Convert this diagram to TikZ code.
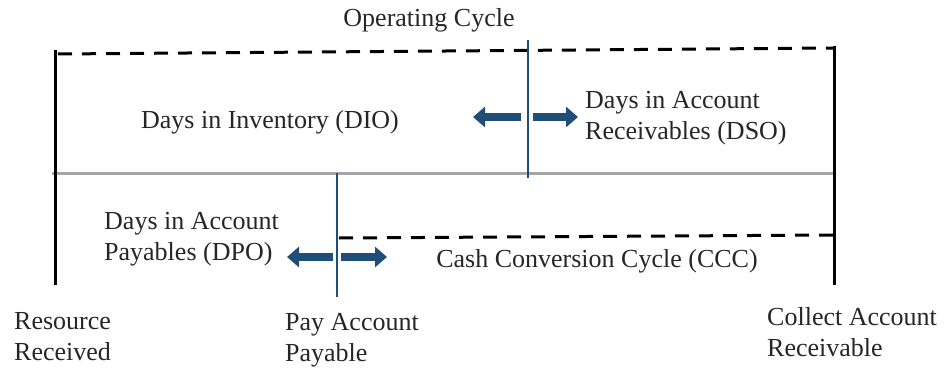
\documentclass[tikz,border=0pt]{standalone}
\usepackage{fontspec}
\setmainfont{Liberation Serif}
\usetikzlibrary{arrows.meta}
\definecolor{navy}{HTML}{1F4E79}
\definecolor{rule}{HTML}{A6A6A6}
\tikzset{
  x=1pt, y=-1pt,
  lbl/.style={font=\fontsize{26}{31}\selectfont, inner sep=0pt, text=black!85},
  bound/.style={line width=3pt, black},
  span/.style={line width=3pt, black, dash pattern=on 14pt off 10pt},
  divider/.style={line width=2.4pt, navy},
  base/.style={line width=3pt, rule},
  push/.style={line width=7.5pt, navy, -{Triangle[length=12pt,width=20pt]}},
}
\begin{document}
\begin{tikzpicture}
\useasboundingbox (0,0) rectangle (945,369);

% anchor points
\coordinate (lt) at (55,50);
\coordinate (lb) at (55,285);
\coordinate (rt) at (834,46);
\coordinate (rb) at (834,285);
\coordinate (dashL) at (58,54);
\coordinate (dashR) at (834,48);
\coordinate (baseL) at (52,173);
\coordinate (baseR) at (836,173);
\coordinate (d1t) at (528,40);
\coordinate (d1b) at (528,178);
\coordinate (d2t) at (337,173);
\coordinate (d2b) at (337,297);
\coordinate (cccL) at (339,238);
\coordinate (cccR) at (834,235);
\coordinate (a1s) at (521,117);
\coordinate (a1e) at (473,117);
\coordinate (a2s) at (533,117);
\coordinate (a2e) at (578,117);
\coordinate (a3s) at (333,257);
\coordinate (a3e) at (287,257);
\coordinate (a4s) at (341,257);
\coordinate (a4e) at (387,257);

% frame
\draw[span] (dashL) -- (dashR);
\draw[span] (cccL) -- (cccR);
\draw[base] (baseL) -- (baseR);
\draw[bound] (lt) -- (lb);
\draw[bound] (rt) -- (rb);
\draw[divider] (d1t) -- (d1b);
\draw[divider] (d2t) -- (d2b);

% direction arrows
\draw[push] (a1s) -- (a1e);
\draw[push] (a2s) -- (a2e);
\draw[push] (a3s) -- (a3e);
\draw[push] (a4s) -- (a4e);

% labels
\node[lbl] (op) at (429,20) {Operating Cycle};
\node[lbl] (dio) at (270,122) {Days in Inventory (DIO)};
\node[lbl, anchor=west, align=left] (dso) at (585,118) {Days in Account\\Receivables (DSO)};
\node[lbl, anchor=west, align=left] (dpo) at (104,239) {Days in Account\\Payables (DPO)};
\node[lbl] (ccc) at (597,261) {Cash Conversion Cycle (CCC)};
\node[lbl, anchor=west, align=left] (rr) at (14,337) {Resource\\Received};
\node[lbl, anchor=west, align=left] (pap) at (285,340) {Pay Account\\Payable};
\node[lbl, anchor=west, align=left] (car) at (767,332) {Collect Account\\Receivable};
\end{tikzpicture}
\end{document}
